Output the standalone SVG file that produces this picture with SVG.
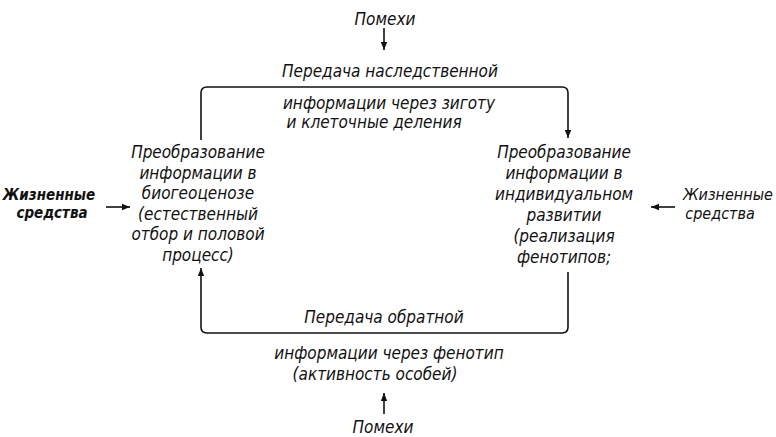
<svg xmlns="http://www.w3.org/2000/svg" width="776" height="437" viewBox="0 0 776 437">
<defs>
<marker id="ah" viewBox="0 0 10 10" refX="10" refY="5" markerWidth="8" markerHeight="8" markerUnits="userSpaceOnUse" orient="auto">
<path d="M0,1 L10,5 L0,9 Z" fill="#111"/>
</marker>
<style>
text{font-family:"DejaVu Sans Condensed","DejaVu Sans",sans-serif;font-style:italic;font-size:17px;fill:#111;text-anchor:middle}
.s{font-size:15px}
.m{font-size:16px}
.b{font-weight:bold}
.ln{fill:none;stroke:#111;stroke-width:1.6}
</style>
</defs>
<rect width="776" height="437" fill="#fff"/>
<g id="connectors">
<path class="ln" d="M201,140 V93 Q201,87 207,87 H562 Q568,87 568,93 V138" marker-end="url(#ah)"/>
<path class="ln" d="M568,272 V327 Q568,333 562,333 H207 Q201,333 201,327 V268" marker-end="url(#ah)"/>
<path class="ln" d="M384,28 V50" marker-end="url(#ah)"/>
<path class="ln" d="M384,414 V393" marker-end="url(#ah)"/>
<path class="ln" d="M106,207 H130" marker-end="url(#ah)"/>
<path class="ln" d="M675,207 H651" marker-end="url(#ah)"/>
</g>
<g id="noise-top"><text x="385" y="25">Помехи</text></g>
<g id="noise-bottom"><text x="383" y="433">Помехи</text></g>
<g id="label-top">
<text x="390" y="77">Передача наследственной</text>
<text x="389" y="109">информации через зиготу</text>
<text x="374" y="128">и клеточные деления</text>
</g>
<g id="label-bottom">
<text x="384" y="323">Передача обратной</text>
<text x="389" y="359">информации через фенотип</text>
<text x="375" y="380">(активность особей)</text>
</g>
<g id="node-left">
<text x="198" y="158">Преобразование</text>
<text x="198" y="178.5">информации в</text>
<text x="198" y="199">биогеоценозе</text>
<text x="198" y="219.5">(естественный</text>
<text x="198" y="240">отбор и половой</text>
<text x="198" y="260.5">процесс)</text>
</g>
<g id="node-right">
<text x="564" y="158">Преобразование</text>
<text x="564" y="179">информации в</text>
<text x="564" y="200">индивидуальном</text>
<text x="564" y="221">развитии</text>
<text x="564" y="242">(реализация</text>
<text x="564" y="263">фенотипов;</text>
</g>
<g id="means-left">
<text class="s b" x="49" y="200">Жизненные</text>
<text class="s b" x="52" y="218">средства</text>
</g>
<g id="means-right">
<text class="m" x="728" y="200">Жизненные</text>
<text class="m" x="720" y="219">средства</text>
</g>
</svg>
